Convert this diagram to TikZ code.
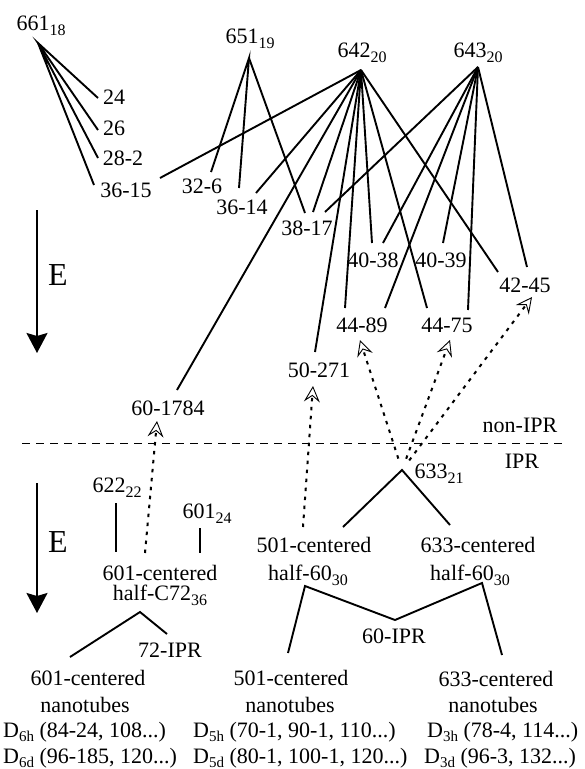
\documentclass[tikz,border=0pt]{standalone}
\usepackage{fontspec}
\setmainfont{Liberation Serif}
\usetikzlibrary{arrows.meta}
\newcommand\subs[1]{\raisebox{-5pt}{\fontsize{16}{16}\selectfont #1}}
\newcommand\subd[1]{\raisebox{-4pt}{\fontsize{15}{15}\selectfont #1}}
\begin{document}
\begin{tikzpicture}[x=1pt,y=-1pt,
  lbl/.style={inner sep=0pt,anchor=base,font=\fontsize{22}{22}\selectfont},
  lblw/.style={lbl,anchor=base west},
  edge/.style={line width=1.9pt},
  dotline/.style={line width=2pt,dash pattern=on 3.5pt off 5.5pt,
    -{Stealth[open,length=16pt,width=16pt,inset=6pt,line width=0.9pt]}},
  sepline/.style={line width=1pt,dash pattern=on 8pt off 6pt},
  energy/.style={line width=2pt,-{Stealth[length=20pt,width=21pt,inset=3pt]}},
  elbl/.style={inner sep=0pt,anchor=base,font=\fontsize{32}{32}\selectfont}]
\useasboundingbox (0,0) rectangle (585,769);

% ---------- labels, non-IPR part ----------
\node[lbl] (n661) at (41,30) {661\subs{18}};
\node[lbl] (n651) at (250,43) {651\subs{19}};
\node[lbl] (n642) at (362,57) {642\subs{20}};
\node[lbl] (n643) at (478,57) {643\subs{20}};
\node[lbl] (n24) at (114,104) {24};
\node[lbl] (n26) at (114,135) {26};
\node[lbl] (n282) at (123,165) {28-2};
\node[lbl] (n3615) at (126,197) {36-15};
\node[lbl] (n326) at (202,193) {32-6};
\node[lbl] (n3614) at (242,214) {36-14};
\node[lbl] (n3817) at (307,235) {38-17};
\node[lbl] (n4038) at (373,267) {40-38};
\node[lbl] (n4039) at (441,267) {40-39};
\node[lbl] (n4245) at (525,292) {42-45};
\node[lbl] (n4489) at (362,332) {44-89};
\node[lbl] (n4475) at (447,332) {44-75};
\node[lbl] (n50271) at (319,377) {50-271};
\node[lbl] (n601784) at (168,415) {60-1784};
\node[lbl] (nonipr) at (520,432) {non-IPR};
\node[lbl] (ipr) at (522,468) {IPR};

% ---------- labels, IPR part ----------
\node[lbl] (n633) at (439,478) {633\subs{21}};
\node[lbl] (n622) at (117,492) {622\subs{22}};
\node[lbl] (n601) at (207,518) {601\subs{24}};
\node[lbl] (c601a) at (160,580) {601-centered};
\node[lbl] (c601b) at (160,600) {half-C72\subs{36}};
\node[lbl] (c501a) at (314,552) {501-centered};
\node[lbl] (c501b) at (308,580) {half-60\subs{30}};
\node[lbl] (c633a) at (478,552) {633-centered};
\node[lbl] (c633b) at (470,580) {half-60\subs{30}};
\node[lbl] (n72ipr) at (170,657) {72-IPR};
\node[lbl] (n60ipr) at (394,643) {60-IPR};
\node[lbl] (t601a) at (88,685) {601-centered};
\node[lbl] (t601b) at (85,712) {nanotubes};
\node[lblw] (t601c) at (3,737) {D\subd{6h} (84-24, 108...)};
\node[lblw] (t601d) at (3,763) {D\subd{6d} (96-185, 120...)};
\node[lbl] (t501a) at (291,685) {501-centered};
\node[lbl] (t501b) at (290,712) {nanotubes};
\node[lblw] (t501c) at (193,737) {D\subd{5h} (70-1, 90-1, 110...)};
\node[lblw] (t501d) at (193,763) {D\subd{5d} (80-1, 100-1, 120...)};
\node[lbl] (t633a) at (496,686) {633-centered};
\node[lbl] (t633b) at (493,712) {nanotubes};
\node[lblw] (t633c) at (427,737) {D\subd{3h} (78-4, 114...)};
\node[lblw] (t633d) at (424,763) {D\subd{3d} (96-3, 132...)};

% ---------- branching points and line ends ----------
\coordinate (a661) at (38,43);
\coordinate (a651) at (249,58);
\coordinate (a642) at (361,70);
\coordinate (a643) at (478,67);
\coordinate (e24) at (98,98);
\coordinate (e26) at (98,130);
\coordinate (e282) at (98,158);
\coordinate (e3615a) at (94,185);
\coordinate (e3615b) at (160,178);
\coordinate (e326) at (211,172);
\coordinate (e3614a) at (239,188);
\coordinate (e3614b) at (256,193);
\coordinate (e3817a) at (305,213);
\coordinate (e3817b) at (313,212);
\coordinate (e3817c) at (325,212);
\coordinate (e1784) at (177,390);
\coordinate (e271) at (315,352);
\coordinate (e4489a) at (345,308);
\coordinate (e4489b) at (385,308);
\coordinate (e4038a) at (372,243);
\coordinate (e4038b) at (383,243);
\coordinate (e4039) at (443,243);
\coordinate (e4475a) at (427,308);
\coordinate (e4475b) at (468,310);
\coordinate (e4245a) at (498,272);
\coordinate (e4245b) at (527,267);
% open arrow tips under the non-IPR isomers
\coordinate (h1784) at (157,421);
\coordinate (h271) at (313,386);
\coordinate (h4489) at (360,340);
\coordinate (h4475) at (450,340);
\coordinate (h4245) at (532,297);
% IPR part
\coordinate (a633) at (402,470);
\coordinate (g622t) at (116,503);
\coordinate (g622b) at (116,552);
\coordinate (g601t) at (200,528);
\coordinate (g601b) at (200,553);
\coordinate (d601) at (145,553);
\coordinate (d501) at (303,527);
\coordinate (g501h) at (343,527);
\coordinate (g633h) at (450,525);
\coordinate (aC72) at (140,612);
\coordinate (gt601) at (70,657);
\coordinate (g72) at (167,634);
\coordinate (a501) at (305,586);
\coordinate (a60) at (395,620);
\coordinate (a633h) at (482,583);
\coordinate (gt501) at (288,653);
\coordinate (gt633) at (502,655);
% energy arrows and separator
\coordinate (E1s) at (37,210);
\coordinate (E1e) at (37,353);
\coordinate (E2s) at (37,483);
\coordinate (E2e) at (37,613);
\coordinate (sepL) at (22,443);
\coordinate (sepR) at (563,443);

% ---------- 661 family ----------
\draw[edge] (e24) -- (a661) -- (e26);
\draw[edge] (e282) -- (a661) -- (e3615a);

% ---------- 651 family ----------
\draw[edge] (e326) -- (a651) -- (e3614a);
\draw[edge] (a651) -- (e3817a);

% ---------- 642 family ----------
\foreach \t in {e3615b,e3614b,e3817b,e1784,e271,e4489a,e4038a,e4475a,e4245a}
  \draw[edge] (a642) -- (\t);

% ---------- 643 family ----------
\foreach \t in {e3817c,e4489b,e4038b,e4039,e4475b,e4245b}
  \draw[edge] (a643) -- (\t);

% ---------- IPR / non-IPR separator ----------
\draw[sepline] (sepL) -- (sepR);

% ---------- dotted links to non-IPR isomers ----------
\draw[dotline] (d601) -- (h1784);
\draw[dotline] (d501) -- (h271);
\draw[dotline,shorten <=12pt] (a633) -- (h4489);
\draw[dotline,shorten <=12pt] (a633) -- (h4475);
\draw[dotline,shorten <=12pt] (a633) -- (h4245);

% ---------- IPR tree ----------
\draw[edge] (g501h) -- (a633) -- (g633h);
\draw[edge] (g622t) -- (g622b);
\draw[edge] (g601t) -- (g601b);
\draw[edge] (gt601) -- (aC72) -- (g72);
\draw[edge] (gt501) -- (a501) -- (a60) -- (a633h) -- (gt633);

% ---------- energy axis ----------
\draw[energy] (E1s) -- (E1e);
\draw[energy] (E2s) -- (E2e);
\node[elbl] (E1) at (58,285) {E};
\node[elbl] (E2) at (58,552) {E};
\end{tikzpicture}
\end{document}
